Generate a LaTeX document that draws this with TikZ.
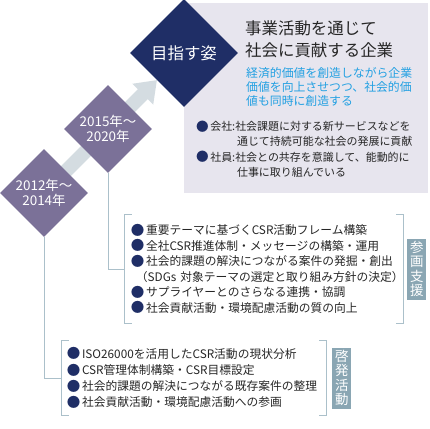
\documentclass[tikz,border=0pt]{standalone}
\usepackage{fontspec}
\setmainfont{Noto Sans CJK JP}
\usepackage{xcolor}
\usetikzlibrary{shapes.geometric, positioning, arrows.meta}

\definecolor{navy}{HTML}{1F2E66}
\definecolor{lilac}{HTML}{7B7198}
\definecolor{haze}{HTML}{E7E5EE}
\definecolor{mist}{HTML}{D4DCE1}
\definecolor{sky}{HTML}{22A0E2}
\definecolor{slate}{HTML}{8AA6B3}
\definecolor{rulecol}{HTML}{ABC0CA}
\definecolor{ink}{HTML}{262626}

\newcommand{\bul}{\raisebox{-0.06em}{\color{navy}\scalebox{1.15}{●}}\hspace{1.5pt}}

\tikzset{
  period/.style={diamond, aspect=1, fill=lilac, text=white, inner sep=0pt,
    minimum size=88bp, align=center, font=\fontsize{13.5}{15}\selectfont, on grid},
  phase/.style={inner sep=0pt, align=left, text=ink},
  tag/.style={fill=slate, text=white, inner sep=0pt, minimum width=19bp,
    minimum height=61bp, align=center, font=\fontsize{13.5}{14.6}\selectfont},
  link/.style={rulecol, line width=0.8bp},
  trend/.style={mist, line width=14bp, -{Triangle[width=28bp, length=20bp]}}
}

\begin{document}
\begin{tikzpicture}[x=1bp, y=-1bp]
\useasboundingbox (0,0) rectangle (430,429);

% goal panel
\fill[haze] (184,3) rectangle (428,193);

\coordinate (start) at (44,193);
\coordinate (tip) at (157,80);
\draw[trend] (start) -- (tip);

\node (y2012) [period] at (start) {2012年～\\2014年};
\node (y2015) [period, above right=64bp and 64bp of y2012] {2015年～\\2020年};
\node (goal) [period, fill=navy, minimum size=108bp,
  font=\fontsize{16.5}{20}\selectfont, above right=76bp and 76bp of y2015] {目指す姿};

\node (aim) [phase, anchor=west, font=\fontsize{16.5}{22}\selectfont] at (245,39)
  {事業活動を通じて\\社会に貢献する企業};
\node (value) [phase, anchor=west, text=sky, font=\fontsize{11.9}{13.6}\selectfont] at (246,87)
  {経済的価値を創造しながら企業\\価値を向上させつつ、社会的価\\値も同時に創造する};
\node (pledge) [phase, anchor=west, font=\fontsize{11}{15.3}\selectfont] at (196,149)
  {\bul 会社:社会課題に対する新サービスなどを\\
   \hspace*{41pt}通じて持続可能な社会の発展に貢献\\
   \bul 社員:社会との共存を意識して、能動的に\\
   \hspace*{41pt}仕事に取り組んでいる};

% activity boxes
\node (support) [phase, minimum width=278bp, minimum height=108bp, text width=266bp,
  font=\fontsize{11.8}{15.6}\selectfont] at (264,269)
  {\bul 重要テーマに基づくCSR活動フレーム構築\\
   \bul 全社CSR推進体制・メッセージの構築・運用\\
   \bul 社会的課題の解決につながる案件の発掘・創出\\
   \hspace*{5pt}\mbox{（SDGs 対象テーマの選定と取り組み方針の決定）}\\
   \bul サプライヤーとのさらなる連携・協調\\
   \bul 社会貢献活動・環境配慮活動の質の向上};
\node (enlight) [phase, minimum width=264bp, minimum height=74bp, text width=254bp,
  font=\fontsize{11.8}{16.3}\selectfont] at (194,378)
  {\bul ISO26000を活用したCSR活動の現状分析\\
   \bul CSR管理体制構築・CSR目標設定\\
   \bul 社会的課題の解決につながる既存案件の整理\\
   \bul 社会貢献活動・環境配慮活動への参画};

\node (tag2) [tag, right=4bp of support] {参\\画\\支\\援};
\node (tag1) [tag, right=6bp of enlight] {啓\\発\\活\\動};

\foreach \b in {support, enlight} {
  \draw[link] ([xshift=7bp]\b.north west) -- (\b.north west) -- (\b.south west) -- ++(7,0);
  \draw[link] ([xshift=-7bp]\b.north east) -- (\b.north east) -- (\b.south east) -- ++(-7,0);
}

\draw[link] (y2012.south) |- (enlight.west);
\draw[link] (y2015.south) |- (support.west);

\end{tikzpicture}
\end{document}
